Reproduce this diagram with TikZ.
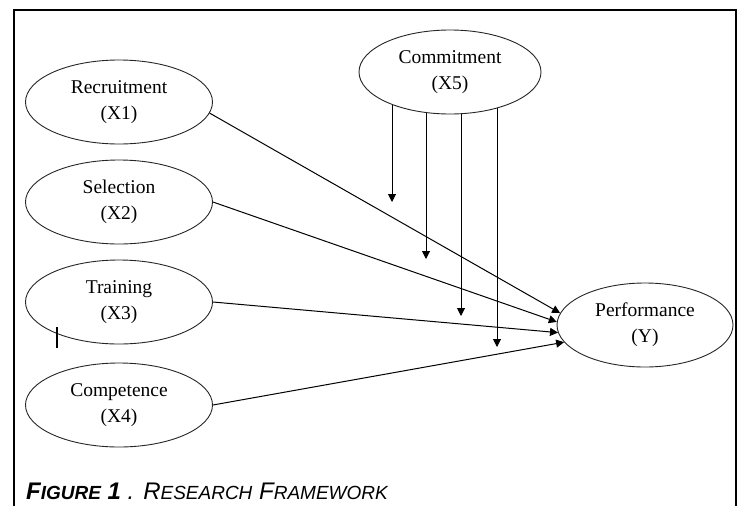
\documentclass[tikz,border=0pt]{standalone}
\usepackage{fontspec}
\setmainfont{Liberation Serif}
\newfontfamily\capfont{Liberation Sans}
\usetikzlibrary{shapes,positioning,arrows.meta,backgrounds}

\newcommand{\lowcap}[1]{{\fontsize{19}{19}\selectfont #1}}

\tikzset{
  var/.style={draw=black!85, line width=0.9pt, ellipse, fill=white,
    minimum width=187pt, minimum height=84pt, inner sep=0pt,
    align=center, font=\fontsize{19.5}{26}\selectfont},
  link/.style={line width=1pt, -{Triangle[length=8pt,width=8pt]}}
}

\begin{document}
\begin{tikzpicture}[x=1pt,y=-1pt]
            \useasboundingbox (0,0) rectangle (743,506);
            \draw[line width=1.2pt] (14,506) -- (14,10) -- (736,10) -- (736,506);

            % variables
            \node[var] (X1) at (119,102) {Recruitment\\(X1)};
            \node[var] (X2) at (119,202) {Selection\\(X2)};
            \node[var] (X3) at (119,302) {Training\\(X3)};
            \node[var] (X4) at (119,405) {Competence\\(X4)};
            \node[var, minimum width=182pt] (X5) at (450,72) {Commitment\\(X5)};
            \node[var, minimum width=176pt] (Y) at (645,325) {Performance\\(Y)};

            % tips of the moderating arrows
            \coordinate (M1) at (392,202);
            \coordinate (M2) at (426,259);
            \coordinate (M3) at (461,316);
            \coordinate (M4) at (497,347);

            \draw[link] (X1.-7) -- (Y.172);
            \draw[link] (X2.east) -- (Y.178);
            \draw[link] (X3.east) -- (Y.185);
            \draw[link] (X4.east) -- (Y.192);

            \begin{scope}[on background layer]
              \draw[link] (X5.center -| M1) -- (M1);
              \draw[link] (X5.center -| M2) -- (M2);
              \draw[link] (X5.center -| M3) -- (M3);
              \draw[link] (X5.center -| M4) -- (M4);
            \end{scope}

            \draw[line width=2pt] (57,327) -- (57,348);

            \node[anchor=base west, inner sep=0pt] (cap) at (26,499)
              {\capfont\itshape\fontsize{24}{24}\selectfont
               {\bfseries F\lowcap{IGURE} 1} . R\lowcap{ESEARCH} F\lowcap{RAMEWORK}};

        \end{tikzpicture}
\end{document}
